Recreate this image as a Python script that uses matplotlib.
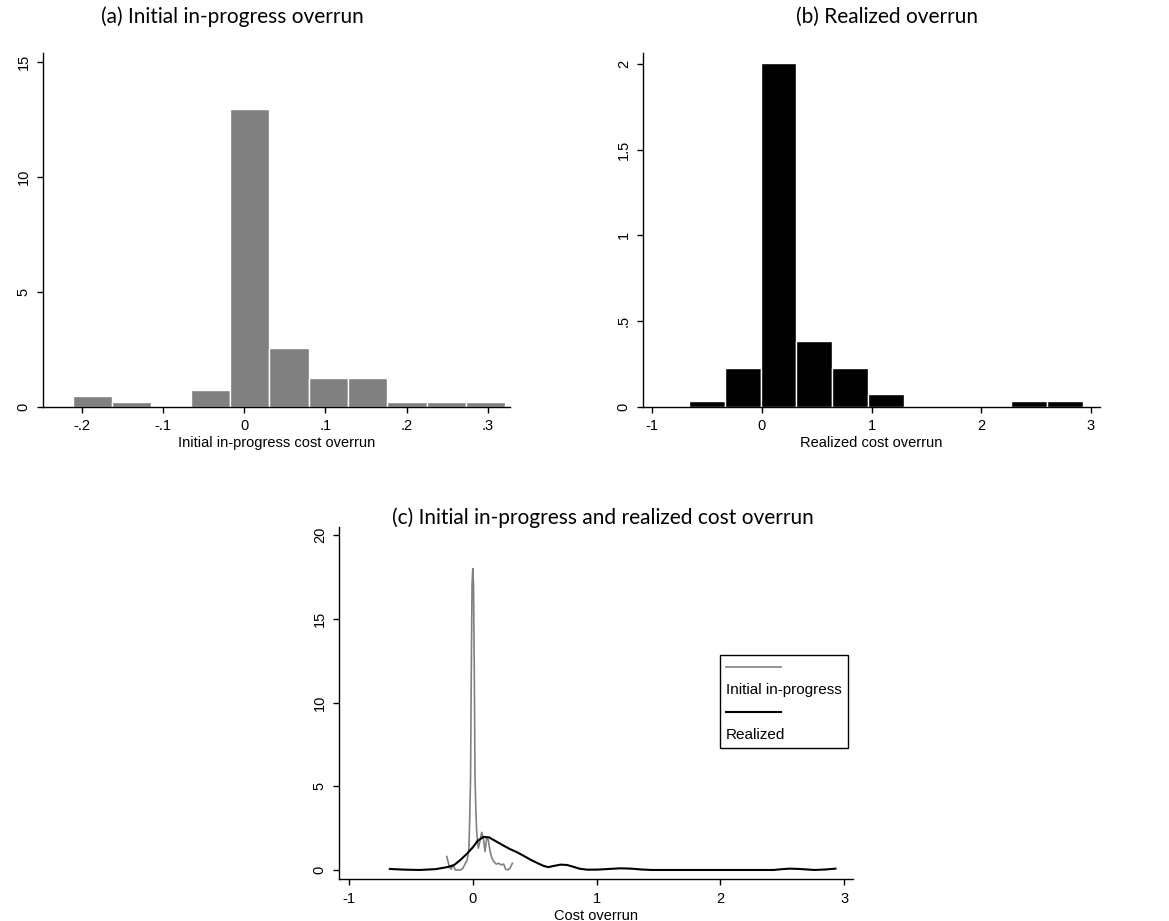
import numpy as np
import matplotlib
matplotlib.use("Agg")
import matplotlib.pyplot as plt
from matplotlib.lines import Line2D

plt.rcParams['font.family'] = ['Liberation Sans', 'DejaVu Sans']

# (a) initial in-progress overrun: density per bin
a_start = -0.2111
a_width = 0.04843
a_density = [0.48, 0.22, 0.0, 0.74, 12.97, 2.57, 1.26, 1.26, 0.22, 0.22, 0.22]

# (b) realized overrun: density per bin
b_start = -0.6655
b_width = 0.3268
b_density = [0.033, 0.226, 2.006, 0.382, 0.226, 0.072, 0.0, 0.0, 0.0, 0.033, 0.033]

# (c) kernel densities
init_x = [-0.21, -0.19, -0.175, -0.16, -0.14, -0.12, -0.1, -0.08, -0.06, -0.045,
          -0.032, -0.025, -0.018, -0.012, -0.006, 0.0, 0.006, 0.012, 0.018, 0.025,
          0.032, 0.045, 0.06, 0.072, 0.085, 0.099, 0.112, 0.125, 0.14, 0.155,
          0.17, 0.19, 0.21, 0.23, 0.25, 0.265, 0.28, 0.3, 0.32]
init_y = [0.8, 0.2, 0.05, 0.3, 0.0, 0.0, 0.0, 0.1, 0.4, 0.6,
          1.2, 3.0, 5.5, 12.0, 17.0, 18.0, 17.0, 12.0, 5.5, 3.5,
          2.2, 1.3, 1.8, 2.25, 1.9, 1.1, 1.9, 1.8, 1.1, 0.7,
          0.5, 0.35, 0.4, 0.3, 0.35, 0.05, 0.0, 0.1, 0.4]
real_x = [-0.67, -0.55, -0.43, -0.3, -0.2, -0.15, -0.1, -0.05, 0.0, 0.04,
          0.085, 0.13, 0.19, 0.25, 0.3, 0.36, 0.41, 0.47, 0.52, 0.57,
          0.61, 0.66, 0.71, 0.76, 0.8, 0.86, 0.92, 1.0, 1.1, 1.19,
          1.28, 1.36, 1.45, 1.6, 2.0, 2.43, 2.5, 2.56, 2.64, 2.7,
          2.76, 2.85, 2.93]
real_y = [0.06, 0.02, 0.0, 0.05, 0.18, 0.3, 0.6, 0.95, 1.35, 1.75,
          1.97, 1.95, 1.7, 1.45, 1.25, 1.05, 0.85, 0.6, 0.42, 0.25,
          0.17, 0.25, 0.32, 0.3, 0.22, 0.08, 0.02, 0.02, 0.06, 0.1,
          0.08, 0.03, 0.0, 0.0, 0.0, 0.0, 0.05, 0.08, 0.06, 0.03,
          0.0, 0.03, 0.08]

a_ticks = [-0.2, -0.1, 0, 0.1, 0.2, 0.3]
a_ticklabels = ['-.2', '-.1', '0', '.1', '.2', '.3']
a_yticks = [0, 5, 10, 15]
b_ticks = [-1, 0, 1, 2, 3]
b_ticklabels = ['-1', '0', '1', '2', '3']
b_yticks = [0, 0.5, 1, 1.5, 2]
b_yticklabels = ['0', '.5', '1', '1.5', '2']
c_yticks = [0, 5, 10, 15, 20]


def style(ax):
    for s in ['top', 'right']:
        ax.spines[s].set_visible(False)
    for s in ['left', 'bottom']:
        ax.spines[s].set_linewidth(1)
    ax.tick_params(length=4, width=1, labelsize=10.5, pad=5)
    ax.tick_params(axis='y', labelrotation=90)
    for lab in ax.get_yticklabels():
        lab.set_va('center')


fig = plt.figure(figsize=(11.69, 9.21), dpi=100)
title_font = dict(family=['Lato', 'DejaVu Sans'], fontsize=15)

# (a)
ax = fig.add_axes([0.0368, 0.5584, 0.3995, 0.3841])
edges = a_start + a_width * np.arange(len(a_density))
ax.bar(edges, a_density, width=a_width, align='edge', color='#808080',
       edgecolor='white', linewidth=1)
ax.set_xlim(-0.2477, 0.3275)
ax.set_ylim(0, 15.4)
ax.set_xticks(a_ticks)
ax.set_xticklabels(a_ticklabels)
ax.set_yticks(a_yticks)
ax.set_xlabel('Initial in-progress cost overrun', fontsize=10.5, labelpad=2)
style(ax)
fig.text(0.1985, 0.9815, '(a) Initial in-progress overrun', ha='center', va='center', **title_font)

# (b)
ax = fig.add_axes([0.5503, 0.5584, 0.3907, 0.3841])
edges = b_start + b_width * np.arange(len(b_density))
ax.bar(edges, b_density, width=b_width, align='edge', color='black',
       edgecolor='white', linewidth=1)
ax.set_xlim(-1.082, 3.085)
ax.set_ylim(0, 2.064)
ax.set_xticks(b_ticks)
ax.set_xticklabels(b_ticklabels)
ax.set_yticks(b_yticks)
ax.set_yticklabels(b_yticklabels)
ax.set_xlabel('Realized cost overrun', fontsize=10.5, labelpad=2)
style(ax)
fig.text(0.759, 0.9815, '(b) Realized overrun', ha='center', va='center', **title_font)

# (c)
ax = fig.add_axes([0.2903, 0.0453, 0.4392, 0.3825])
g, = ax.plot(init_x, init_y, color='#808080', lw=1.2)
k, = ax.plot(real_x, real_y, color='black', lw=1.5)
ax.set_xlim(-1.078, 3.070)
ax.set_ylim(-0.555, 20.48)
ax.set_xticks(b_ticks)
ax.set_xticklabels(b_ticklabels)
ax.set_yticks(c_yticks)
ax.set_xlabel('Cost overrun', fontsize=10.5, labelpad=2)
style(ax)
blank = Line2D([], [], color='none')
leg = ax.legend([g, blank, k, blank], [' ', 'Initial in-progress', ' ', 'Realized'],
                loc='upper left', bbox_to_anchor=(0.7415, 0.6367),
                fontsize=11, handlelength=3.6, handletextpad=-3.6,
                labelspacing=0.55, borderpad=0.4, borderaxespad=0,
                fancybox=False, framealpha=1, edgecolor='black')
leg.get_frame().set_linewidth(1)
fig.text(0.516, 0.438, '(c) Initial in-progress and realized cost overrun',
         ha='center', va='center', **title_font)

fig.savefig('out.png', dpi=100)
